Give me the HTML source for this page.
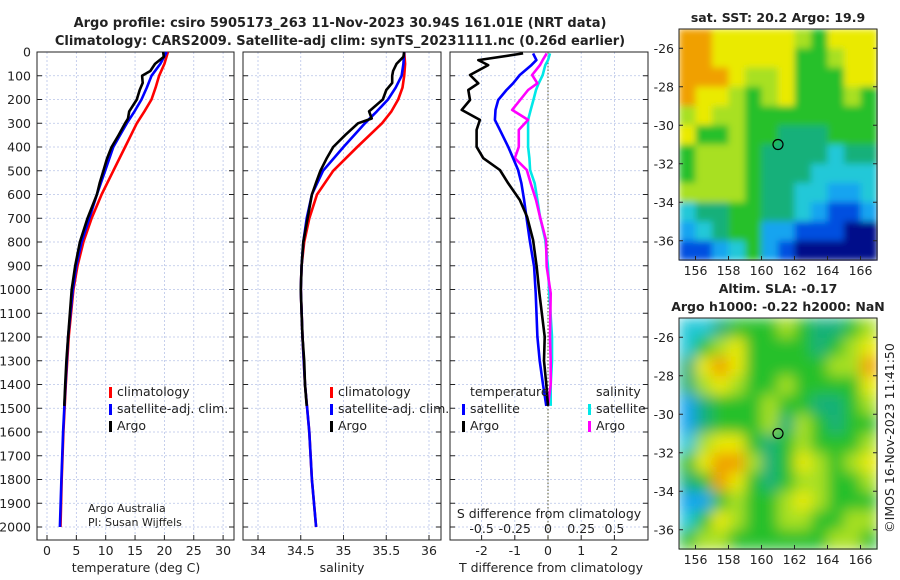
<!DOCTYPE html>
<html><head><meta charset="utf-8">
<style>
html,body{margin:0;padding:0;background:#fff;}
svg{display:block;font-family:"DejaVu Sans","Liberation Sans",sans-serif;}
</style></head>
<body>
<svg id="fig" width="900" height="580" viewBox="0 0 900 580">
<defs>
<filter id="blurSST" x="0" y="0" width="1" height="1"><feGaussianBlur stdDeviation="3.5" edgeMode="duplicate"/></filter>
<filter id="blurSLA" x="0" y="0" width="1" height="1"><feGaussianBlur stdDeviation="7" edgeMode="duplicate"/></filter>
</defs>
</svg>
<script>
// ---------- data ----------
const depthTicks=[0,100,200,300,400,500,600,700,800,900,1000,1100,1200,1300,1400,1500,1600,1700,1800,1900,2000];
const tTicks=[0,5,10,15,20,25,30];
const sTicks=[34,34.5,35,35.5,36];
const dtTicks=[-2,-1,0,1,2];
const dsTicks=[-0.5,-0.25,0,0.25,0.5];
const dsTickLabels=["-0.5","-0.25","0","0.25","0.5"];

const climDepth=[0,50,100,150,200,250,300,400,500,600,700,800,900,1000,1200,1400,1600,1800,2000];
const tempClim=[20.6,20.0,19.1,18.5,17.8,16.6,15.3,13.3,11.3,9.3,7.6,6.2,5.2,4.5,3.7,3.2,2.8,2.5,2.3];
const tempSat=[20.4,19.3,17.8,17.0,16.1,14.9,13.6,11.3,9.9,8.5,7.2,5.9,5.0,4.4,3.6,3.15,2.75,2.45,2.2];
const salClim=[35.71,35.72,35.71,35.69,35.64,35.56,35.45,35.16,34.88,34.69,34.6,34.54,34.51,34.5,34.52,34.55,34.6,34.63,34.68];
const salSat=[35.71,35.70,35.68,35.61,35.52,35.39,35.25,35.0,34.76,34.63,34.57,34.53,34.51,34.5,34.52,34.55,34.6,34.63,34.68];

const argoDepth=[0,20,50,80,100,130,160,200,250,280,300,350,400,450,500,550,600,700,800,900,1000,1100,1200,1300,1400,1490];
const tempArgo=[19.8,19.9,18.4,17.6,16.2,16.3,15.8,15.3,14.0,13.8,13.3,12.2,11.0,10.2,9.6,9.0,8.5,6.9,5.6,4.8,4.2,3.9,3.6,3.3,3.1,2.95];
const salArgo=[35.71,35.70,35.62,35.58,35.57,35.57,35.50,35.46,35.30,35.33,35.17,35.02,34.88,34.80,34.73,34.68,34.63,34.58,34.53,34.51,34.50,34.51,34.52,34.54,34.55,34.57];

const diffDepth=[6,34,55,97,132,160,202,244,286,328,399,447,497,553,623,694,792,904,1016,1199,1300,1400,1490];
const dTArgo=[-0.75,-2.1,-1.8,-2.35,-2.1,-2.4,-2.35,-2.6,-2.05,-2.15,-2.15,-1.95,-1.45,-1.2,-0.85,-0.63,-0.45,-0.34,-0.26,-0.1,-0.12,-0.05,0];
const dTSat=[-0.45,-0.35,-0.5,-0.85,-1.05,-1.25,-1.5,-1.58,-1.6,-1.45,-1.2,-1.05,-0.9,-0.8,-0.72,-0.65,-0.55,-0.42,-0.37,-0.32,-0.25,-0.15,-0.05];
const dSArgo=[-0.01,-0.04,-0.06,-0.12,-0.08,-0.15,-0.21,-0.27,-0.15,-0.22,-0.22,-0.25,-0.16,-0.13,-0.09,-0.06,-0.015,-0.01,0.02,0.015,0.02,0.02,0.0];
const dSSat=[0.015,0.0,-0.02,-0.04,-0.07,-0.09,-0.11,-0.13,-0.15,-0.15,-0.15,-0.14,-0.135,-0.1,-0.08,-0.06,-0.02,0.0,0.01,0.03,0.03,0.02,0.02];

const lonTicks=[156,158,160,162,164,166];
const latTicks=[-26,-28,-30,-32,-34,-36];
const sstGrid=[
[8,8,7,7,7,7,7,6,5,7,7,7],
[8,8,7,7,7,7,7,5,5,6,7,7],
[8,8,8,7,6,6,7,5,5,5,7,7],
[8,7,7,6,5,6,7,5,5,5,6,5],
[6,7,6,6,5,5,5,5,5,5,5,5],
[7,5,5,6,5,5,4,4,4,5,5,5],
[5,6,6,6,5,4,4,4,4,3,4,4],
[5,6,6,6,5,4,4,4,3,3,3,3],
[6,6,6,6,5,4,4,3,3,2,2,3],
[3,4,4,5,5,4,4,3,2,1,1,2],
[2,3,4,5,5,2,2,1,1,1,0,0],
[1,1,2,3,5,2,1,0,0,0,0,0]];
const slaGrid=[
[3,3,4,5,5,5,6,5,4,4,5,6],
[3,5,6,7,5,5,5,5,4,5,6,7],
[4,7,8,7,5,5,5,5,5,6,6,8],
[4,6,7,6,5,5,6,5,5,5,5,7],
[2,4,5,5,5,6,5,5,4,4,5,6],
[2,4,5,5,5,6,4,6,5,4,5,5],
[3,6,7,7,5,4,5,6,5,5,5,6],
[5,7,8,8,6,4,5,7,6,5,6,7],
[4,5,8,7,5,4,5,6,6,5,5,6],
[2,2,5,6,5,5,6,7,6,5,5,5],
[3,5,7,6,5,5,6,6,5,5,6,6],
[5,6,6,5,5,5,5,5,5,6,6,5]];
const argoLon=161, argoLat=-31;

// ---------- helpers ----------
const NS="http://www.w3.org/2000/svg";
const svg=document.getElementById('fig');
function mk(tag,attrs,parent){const e=document.createElementNS(NS,tag);for(const k in attrs)e.setAttribute(k,attrs[k]);(parent||svg).appendChild(e);return e;}
function txt(x,y,s,size,anchor,weight,parent){const t=mk('text',{x:x,y:y,'font-size':size,'text-anchor':anchor||'middle','font-weight':weight||'normal',fill:'#222'},parent);t.textContent=s;return t;}

const yTop=52, yPer=0.2375, plotBottom=540;
const yD=d=>yTop+d*yPer;
const panels=[{l:37,r:234},{l:243,r:441},{l:450,r:648}];
const xT=t=>47+t*5.87;
const xS=s=>258+(s-34)*85.5;
const xDT=v=>548+v*33.2;
const xDS=v=>548+v*132.8;

let t1=txt(340,27,'Argo profile: csiro 5905173_263 11-Nov-2023 30.94S 161.01E (NRT data)',13,'middle','bold');

let t2=txt(340,45,'Climatology: CARS2009. Satellite-adj clim: synTS_20231111.nc (0.26d earlier)',13,'middle','bold');


function grid(p,xs,g){
  xs.forEach(x=>{mk('line',{x1:x,x2:x,y1:yTop,y2:plotBottom,stroke:'#b8c4e8','stroke-width':0.8,'stroke-dasharray':'2,2'},g);
    mk('line',{x1:x,x2:x,y1:plotBottom,y2:plotBottom-5,stroke:'#222'},g);});
  depthTicks.forEach(d=>{const y=yD(d);mk('line',{x1:p.l,x2:p.r,y1:y,y2:y,stroke:'#b8c4e8','stroke-width':0.8,'stroke-dasharray':'2,2'},g);
    mk('line',{x1:p.l,x2:p.l+5,y1:y,y2:y,stroke:'#222'},g);mk('line',{x1:p.r,x2:p.r-5,y1:y,y2:y,stroke:'#222'},g);});
  mk('rect',{x:p.l,y:yTop,width:p.r-p.l,height:plotBottom-yTop,fill:'none',stroke:'#222','stroke-width':1},g);
}
function line(xs,ds,xf,color,name,g,w){
  const pts=xs.map((v,i)=>xf(v).toFixed(1)+','+yD(ds[i]).toFixed(1)).join(' ');
  const e=mk('polyline',{points:pts,fill:'none',stroke:color,'stroke-width':w||2.6,'stroke-linejoin':'round'},g);
  
  
}
function legend(x,y,color,label,g,name){
  mk('rect',{x:x,y:y-9,width:3,height:11,fill:color},g);
  const t=txt(x+8,y,label,12.5,'start','normal',g);
  
  
}

let g1=mk('g',{});


grid(panels[0],tTicks.map(xT),g1);
depthTicks.forEach(d=>txt(31,yD(d)+4.5,String(d),12.5,'end','normal',g1));
tTicks.forEach(t=>txt(xT(t),555,String(t),12.5,'middle','normal',g1));
let ax1=txt(136,572,'temperature (deg C)',12.5,'middle','normal',g1);

line(tempClim,climDepth,xT,'#ff0000','temp-climatology-line',g1);
line(tempSat,climDepth,xT,'#0000ff','temp-satellite-line',g1);
line(tempArgo,argoDepth,xT,'#000000','temp-argo-line',g1);
legend(109,396,'#ff0000','climatology',g1,'legend-climatology');
legend(109,413,'#0000ff','satellite-adj. clim.',g1,'legend-satellite-adj');
legend(109,430,'#000000','Argo',g1,'legend-argo');
let c1=txt(88,512,'Argo Australia',11,'start','normal',g1);
let c2=txt(88,526,'PI: Susan Wijffels',11,'start','normal',g1);

let g2=mk('g',{});


grid(panels[1],sTicks.map(xS),g2);
sTicks.forEach(s=>txt(xS(s),555,String(s),12.5,'middle','normal',g2));
let ax2=txt(342,572,'salinity',12.5,'middle','normal',g2);

line(salClim,climDepth,xS,'#ff0000','sal-climatology-line',g2);
line(salSat,climDepth,xS,'#0000ff','sal-satellite-line',g2);
line(salArgo,argoDepth,xS,'#000000','sal-argo-line',g2);
legend(330,396,'#ff0000','climatology',g2,'legend-climatology-2');
legend(330,413,'#0000ff','satellite-adj. clim.',g2,'legend-satellite-adj-2');
legend(330,430,'#000000','Argo',g2,'legend-argo-2');

let g3=mk('g',{});


grid(panels[2],dtTicks.map(xDT),g3);
mk('line',{x1:xDT(0),x2:xDT(0),y1:yTop,y2:plotBottom,stroke:'#555530','stroke-width':1,'stroke-dasharray':'1.5,2'},g3);
dtTicks.forEach(v=>txt(xDT(v),555,String(v),12.5,'middle','normal',g3));
dsTicks.forEach((v,i)=>txt(xDS(v),533,dsTickLabels[i],12.5,'middle','normal',g3));
let sdt=txt(549,518,'S difference from climatology',12.5,'middle','normal',g3);

let ax3=txt(551,572,'T difference from climatology',12.5,'middle','normal',g3);

line(dSSat,diffDepth,xDS,'#00e8e8','s-diff-satellite-line',g3);
line(dSArgo,diffDepth,xDS,'#ff00ff','s-diff-argo-line',g3);
line(dTSat,diffDepth,xDT,'#0000ff','t-diff-satellite-line',g3);
line(dTArgo,diffDepth,xDT,'#000000','t-diff-argo-line',g3);
let lt=txt(470,396,'temperature',12.5,'start','normal',g3);
let ls=txt(596,396,'salinity',12.5,'start','normal',g3);
legend(462,413,'#0000ff','satellite',g3,'legend-t-satellite');
legend(462,430,'#000000','Argo',g3,'legend-t-argo');
legend(588,413,'#00e8e8','satellite',g3,'legend-s-satellite');
legend(588,430,'#ff00ff','Argo',g3,'legend-s-argo');

const pal=['#00108a','#0050e0','#12a4f0','#20c8d8','#12b07a','#26c02a','#a8e020','#eaea00','#f0a000'];
function map(grd,top,name,titleLines,filt){
  const g=mk('g',{});
  
  
  const L=679,R=877,B=top+231;
  const xL=lon=>L+(lon-155)*(R-L)/12;
  const yL=lat=>top+(-25-lat)*(B-top)/12;
  const cells=mk('g',{filter:'url(#'+filt+')'},g);
  grd.forEach((row,ri)=>row.forEach((v,ci)=>{
    const c=mk('rect',{x:xL(155+ci).toFixed(1),y:yL(-25-ri).toFixed(1),width:((R-L)/12+0.6).toFixed(1),height:((B-top)/12+0.6).toFixed(1),fill:pal[v]},cells);
    
    
  }));
  mk('rect',{x:L,y:top,width:R-L,height:B-top,fill:'none',stroke:'#222'},g);
  lonTicks.forEach(lon=>{const x=xL(lon);mk('line',{x1:x,x2:x,y1:B,y2:B-4,stroke:'#222'},g);txt(x,B+15,String(lon),12.5,'middle','normal',g);});
  latTicks.forEach(lat=>{const y=yL(lat);mk('line',{x1:L,x2:L+4,y1:y,y2:y,stroke:'#222'},g);mk('line',{x1:R,x2:R-4,y1:y,y2:y,stroke:'#222'},g);txt(L-5,y+4.5,String(lat),12.5,'end','normal',g);});
  const m=mk('circle',{cx:xL(argoLon),cy:yL(argoLat),r:5,fill:'none',stroke:'#000','stroke-width':1.2},g);
  
  
  titleLines.forEach((s,i)=>{const t=txt(778,top-(titleLines.length-1-i)*18-7,s,12.5,'middle','bold',g);});
}
map(sstGrid,29,'sst-map',['sat. SST: 20.2 Argo: 19.9'],'blurSST');
map(slaGrid,318,'sla-map',['Altim. SLA: -0.17','Argo h1000: -0.22 h2000: NaN'],'blurSLA');

let cp=txt(0,0,'©IMOS 16-Nov-2023 11:41:50',12.5,'middle','normal');
cp.setAttribute('transform','translate(894,438) rotate(-90)');


</script>
</body></html>
